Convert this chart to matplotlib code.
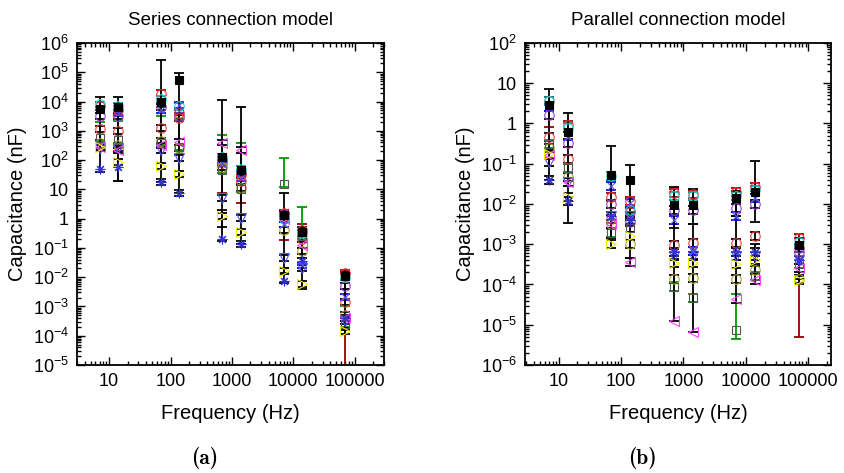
import numpy as np
import matplotlib
matplotlib.use('Agg')
import matplotlib.pyplot as plt
from matplotlib.ticker import LogLocator, FuncFormatter, NullFormatter

plt.rcParams['font.family'] = ['Liberation Sans', 'DejaVu Sans']
plt.rcParams['mathtext.fontset'] = 'custom'
plt.rcParams['mathtext.rm'] = 'Liberation Sans'
plt.rcParams['mathtext.it'] = 'Liberation Sans:italic'
plt.rcParams['mathtext.bf'] = 'Liberation Sans:bold'

# ---------------- data ----------------
freq = [7, 14, 70, 140, 700, 1400, 7000, 14000, 70000]
series_names = ['red', 'red2', 'purple', 'olive', 'cyan', 'sqopen',
                'tridown', 'trileft', 'triright', 'star', 'cross', 'sqfill']

# Series connection model: log10(C / nF), error bar extents in decades below / above
S_red = [3.85, 3.70, 4.25, 3.60, 2.00, 1.50, 0.20, -0.40, -1.85]
S_red_dlo = [0.15, 0.15, 0.15, 1.10, 1.13, 0.98, 0.93, 0.20, 3.45]
S_red_dhi = [0.15, 0.15, 0.15, 0.10, 0.10, 0.10, 0.10, 0.20, 0.10]
S_red2 = [3.05, 3.00, 3.10, 3.45, 1.90, 1.30, 0.10, -0.70, -2.84]
S_red2_dlo = [0.10, 0.10, 0.10, 0.10, 0.10, 0.10, 0.10, 0.10, 0.10]
S_red2_dhi = [0.10, 0.10, 0.10, 0.10, 0.10, 0.10, 0.10, 0.10, 0.10]
S_purple = [3.50, 3.50, 3.80, 3.50, 2.00, 1.55, 0.15, -0.50, -2.30]
S_purple_dlo = [0.10, 0.10, 0.10, 0.10, 0.10, 0.10, 0.10, 0.10, 0.10]
S_purple_dhi = [0.10, 0.10, 0.10, 0.10, 0.10, 0.10, 0.10, 0.10, 0.10]
S_olive = [2.60, 2.50, 2.65, 2.40, 1.75, 1.05, -0.39, -1.10, -3.30]
S_olive_dlo = [0.10, 0.10, 0.10, 0.10, 0.10, 0.10, 0.10, 0.10, 0.10]
S_olive_dhi = [0.10, 0.10, 0.10, 0.10, 0.10, 0.10, 0.10, 0.10, 0.10]
S_cyan = [3.90, 3.85, 4.10, 3.85, 2.10, 1.70, 0.00, -0.50, -2.00]
S_cyan_dlo = [0.10, 0.10, 0.10, 0.10, 0.10, 0.10, 0.10, 0.10, 0.10]
S_cyan_dhi = [0.10, 0.10, 0.10, 0.10, 0.10, 0.10, 0.10, 0.10, 0.10]
S_sqfill = [3.75, 3.80, 4.00, 4.73, 2.10, 1.66, 0.12, -0.45, -1.95]
S_sqfill_dlo = [1.35, 2.50, 2.74, 3.85, 2.39, 2.53, 1.98, 1.95, 1.85]
S_sqfill_dhi = [0.40, 0.37, 1.41, 0.25, 1.94, 2.14, 0.76, 0.15, 0.13]
S_sqopen = [2.75, 2.70, 2.60, 2.45, 1.66, 1.00, 1.18, -0.60, -3.60]
S_sqopen_dlo = [0.10, 0.10, 0.10, 0.10, 0.10, 0.10, 0.10, 0.10, 0.10]
S_sqopen_dhi = [0.55, 0.65, 0.90, 0.95, 1.21, 1.59, 0.90, 1.00, 0.60]
S_tridown = [2.40, 2.40, 2.34, 2.06, 0.70, 0.03, -1.35, -1.70, -3.50]
S_tridown_dlo = [0.10, 0.10, 0.10, 0.10, 0.10, 0.10, 0.10, 0.10, 0.10]
S_tridown_dhi = [0.10, 0.10, 0.10, 0.10, 0.10, 0.10, 0.10, 0.10, 0.10]
S_trileft = [2.45, 2.35, 2.50, 2.62, 2.60, 2.34, 0.00, -0.90, -3.40]
S_trileft_dlo = [0.10, 0.10, 0.10, 0.10, 0.10, 0.10, 0.10, 0.10, 0.10]
S_trileft_dhi = [0.10, 0.10, 0.10, 0.10, 0.10, 0.10, 0.10, 0.10, 0.10]
S_triright = [2.45, 1.94, 1.79, 1.52, 0.10, -0.45, -1.80, -2.24, -3.85]
S_triright_dlo = [0.10, 0.10, 0.10, 0.10, 0.10, 0.10, 0.10, 0.10, 0.10]
S_triright_dhi = [0.10, 0.10, 0.10, 0.10, 0.10, 0.10, 0.10, 0.10, 0.10]
S_star = [1.70, 1.77, 1.26, 0.88, -0.70, -0.87, -2.12, -1.44, -3.40]
S_star_dlo = [0.10, 0.47, 0.10, 0.10, 0.05, 0.10, 0.08, 0.10, 0.10]
S_star_dhi = [0.80, 0.63, 0.10, 0.10, 1.00, 0.10, 0.42, 0.10, 0.10]
S_cross = [3.70, 3.60, 3.70, 3.87, 1.90, 1.40, -0.20, -1.60, -2.67]
S_cross_dlo = [0.10, 0.10, 0.10, 0.10, 0.10, 0.10, 0.10, 0.10, 0.10]
S_cross_dhi = [0.10, 0.10, 0.10, 0.10, 0.10, 0.10, 0.10, 0.10, 0.10]

# Parallel connection model
P_red = [0.57, -0.04, -1.83, -1.92, -1.72, -1.75, -1.70, -1.57, -2.85]
P_red_dlo = [0.66, 0.10, 0.10, 0.10, 0.10, 0.10, 0.10, 0.10, 2.46]
P_red_dhi = [0.10, 0.10, 0.10, 0.10, 0.10, 0.10, 0.10, 0.10, 0.10]
P_red2 = [-0.33, -0.89, -2.37, -2.20, -3.02, -2.96, -2.98, -2.80, -3.10]
P_red2_dlo = [0.10, 0.10, 0.10, 0.10, 0.10, 0.10, 0.10, 0.10, 0.10]
P_red2_dhi = [0.10, 0.10, 0.10, 0.10, 0.10, 0.10, 0.10, 0.10, 0.10]
P_purple = [0.21, -0.48, -2.00, -2.44, -2.15, -2.14, -2.10, -1.99, -3.20]
P_purple_dlo = [0.10, 0.10, 0.10, 0.10, 0.10, 0.10, 0.10, 0.10, 0.10]
P_purple_dhi = [0.10, 0.10, 0.10, 0.10, 0.10, 0.10, 0.10, 0.10, 0.10]
P_olive = [-0.62, -1.32, -2.50, -3.00, -3.86, -3.85, -3.87, -3.64, -3.87]
P_olive_dlo = [0.10, 0.10, 0.10, 0.10, 0.10, 0.10, 0.10, 0.10, 0.10]
P_olive_dhi = [0.10, 0.10, 0.10, 0.10, 0.10, 0.10, 0.10, 0.10, 0.10]
P_cyan = [0.55, -0.10, -1.30, -2.15, -1.80, -1.80, -1.80, -1.65, -2.95]
P_cyan_dlo = [0.10, 0.10, 0.10, 0.10, 0.10, 0.10, 0.10, 0.10, 0.10]
P_cyan_dhi = [0.10, 0.10, 0.10, 0.10, 0.10, 0.10, 0.10, 0.10, 0.10]
P_sqfill = [0.45, -0.20, -1.28, -1.40, -2.02, -2.02, -1.85, -1.69, -3.02]
P_sqfill_dlo = [1.85, 2.28, 1.57, 1.95, 0.58, 0.48, 0.45, 0.75, 0.85]
P_sqfill_dhi = [0.40, 0.47, 0.73, 0.37, 0.43, 0.39, 0.17, 0.76, 0.17]
P_sqopen = [-0.50, -1.10, -2.73, -2.60, -4.05, -4.34, -5.13, -3.80, -3.50]
P_sqopen_dlo = [0.10, 0.10, 0.10, 0.10, 0.10, 0.10, 0.22, 0.10, 0.10]
P_sqopen_dhi = [0.10, 0.10, 0.10, 0.10, 0.10, 0.10, 0.89, 0.10, 0.10]
P_tridown = [-0.95, -1.45, -2.30, -2.30, -3.30, -3.30, -3.30, -3.30, -3.40]
P_tridown_dlo = [0.10, 0.10, 0.10, 0.10, 0.10, 0.10, 0.10, 0.10, 0.10]
P_tridown_dhi = [0.10, 0.10, 0.10, 0.10, 0.10, 0.10, 0.10, 0.10, 0.10]
P_trileft = [-0.78, -1.45, -2.50, -3.45, -4.90, -5.17, -4.37, -3.90, -3.60]
P_trileft_dlo = [0.10, 0.10, 0.10, 0.10, 0.00, 0.00, 0.10, 0.10, 0.10]
P_trileft_dhi = [0.10, 0.10, 0.10, 0.10, 2.40, 2.67, 2.07, 0.90, 0.10]
P_triright = [-0.75, -1.82, -3.00, -2.80, -3.47, -3.47, -3.48, -3.40, -3.90]
P_triright_dlo = [0.10, 0.10, 0.10, 0.10, 0.10, 0.10, 0.10, 0.10, 0.10]
P_triright_dhi = [0.10, 0.10, 0.10, 0.10, 0.10, 0.10, 0.10, 0.10, 0.10]
P_star = [-1.40, -1.92, -2.30, -2.40, -3.20, -3.17, -3.20, -3.20, -3.40]
P_star_dlo = [0.10, 0.10, 0.10, 0.10, 0.10, 0.10, 0.10, 0.10, 0.10]
P_star_dhi = [0.10, 0.10, 0.10, 0.10, 0.10, 0.10, 0.10, 0.10, 0.10]
P_cross = [0.40, -0.30, -1.55, -1.98, -2.40, -3.17, -2.30, -1.86, -3.10]
P_cross_dlo = [0.10, 0.10, 0.10, 0.10, 0.10, 0.10, 0.10, 0.10, 0.10]
P_cross_dhi = [0.10, 0.10, 0.10, 0.10, 0.10, 0.10, 0.10, 0.10, 0.10]

# ---------------- styles ----------------
styles = {
    'red':      dict(marker='o', color='#ff3333', filled=False, ecolor='#990000', ms=6.8),
    'red2':     dict(marker='o', color='#ee4444', filled=False, ecolor='black', ms=6.8),
    'purple':   dict(marker='o', color='#9944cc', filled=False, ecolor='black', ms=6.8),
    'olive':    dict(marker='o', color='#aaaa33', filled=False, ecolor='black', ms=6.8),
    'cyan':     dict(marker='o', color='#22dddd', filled=False, ecolor='#008888', ms=6.8),
    'sqfill':   dict(marker='s', color='black', filled=True, ecolor='black', ms=5.2),
    'sqopen':   dict(marker='s', color='#555555', filled=False, ecolor='#009900', ms=6.2),
    'tridown':  dict(marker='v', color='#5555ff', filled=False, ecolor='black', ms=7),
    'trileft':  dict(marker='<', color='#ff44ff', filled=False, ecolor='black', ms=7),
    'triright': dict(marker='>', color='#eeee00', filled=False, ecolor='black', ms=7),
    'star':     dict(marker=(8, 2, 0), color='#3333cc', filled=False, ecolor='black', ms=7),
    'cross':    dict(marker='x', color='#5555ff', filled=False, ecolor='#0000ee', ms=6),
}

panels = [
    dict(prefix='S', title='Series connection model', ylim=(1e-5, 1e6),
         xlim=(3.0, 3.0e5), rect=[77 / 844, 108 / 473, 307 / 844, 322 / 473], tag='(a)', tagx=205 / 844),
    dict(prefix='P', title='Parallel connection model', ylim=(1e-6, 1e2),
         xlim=(2.9, 2.3e5), rect=[525 / 844, 108 / 473, 306 / 844, 322 / 473], tag='(b)', tagx=642 / 844),
]

fig = plt.figure(figsize=(8.44, 4.73), dpi=100)
g = globals()


def ylab(v, pos):
    e = int(round(np.log10(v)))
    if e == 0:
        return '1'
    if e == 1:
        return '10'
    return r'$10^{%d}$' % e


def xlab(v, pos):
    return '%d' % int(round(v))


for p in panels:
    ax = fig.add_axes(p['rect'])
    ax.set_xscale('log')
    ax.set_yscale('log')
    x = np.array(freq, dtype=float)
    for name in series_names:
        st = styles[name]
        val = np.array(g[p['prefix'] + '_' + name])
        dlo = np.array(g[p['prefix'] + '_' + name + '_dlo'])
        dhi = np.array(g[p['prefix'] + '_' + name + '_dhi'])
        y = 10.0 ** val
        lower = y - 10.0 ** (val - dlo)
        upper = 10.0 ** (val + dhi) - y
        ax.errorbar(x, y, yerr=[lower, upper], fmt='none', ecolor=st['ecolor'],
                    elinewidth=1.3, capsize=3.6, capthick=1.3, zorder=2)
    for name in series_names:
        st = styles[name]
        val = np.array(g[p['prefix'] + '_' + name])
        y = 10.0 ** val
        ax.plot(x, y, linestyle='none', marker=st['marker'], ms=st['ms'], mew=0.8,
                mec=st['color'], mfc=st['color'] if st['filled'] else 'none', zorder=3)
    ax.set_xlim(*p['xlim'])
    ax.set_ylim(*p['ylim'])
    ax.yaxis.set_major_locator(LogLocator(base=10, numticks=20))
    ax.yaxis.set_minor_locator(LogLocator(base=10, subs=np.arange(2, 10), numticks=200))
    ax.xaxis.set_major_locator(LogLocator(base=10, numticks=20))
    ax.xaxis.set_minor_locator(LogLocator(base=10, subs=np.arange(2, 10), numticks=200))
    ax.yaxis.set_major_formatter(FuncFormatter(ylab))
    ax.xaxis.set_major_formatter(FuncFormatter(xlab))
    ax.yaxis.set_minor_formatter(NullFormatter())
    ax.xaxis.set_minor_formatter(NullFormatter())
    ax.tick_params(which='both', direction='in', top=True, right=True, labelsize=13, width=1.0)
    ax.tick_params(which='major', length=6, pad=6)
    ax.tick_params(which='minor', length=3)
    for s in ax.spines.values():
        s.set_linewidth(1.3)
    ax.set_title(p['title'], fontsize=13.5, pad=13)
    ax.set_xlabel('Frequency (Hz)', fontsize=14.5, labelpad=10)
    ax.set_ylabel('Capacitance (nF)', fontsize=14.5, labelpad=4)
    fig.text(p['tagx'], 0.008, p['tag'], fontsize=15.5, fontweight='bold',
             family=['cmb10', 'DejaVu Serif'], ha='center', va='bottom')

fig.savefig('out.png', dpi=100)
